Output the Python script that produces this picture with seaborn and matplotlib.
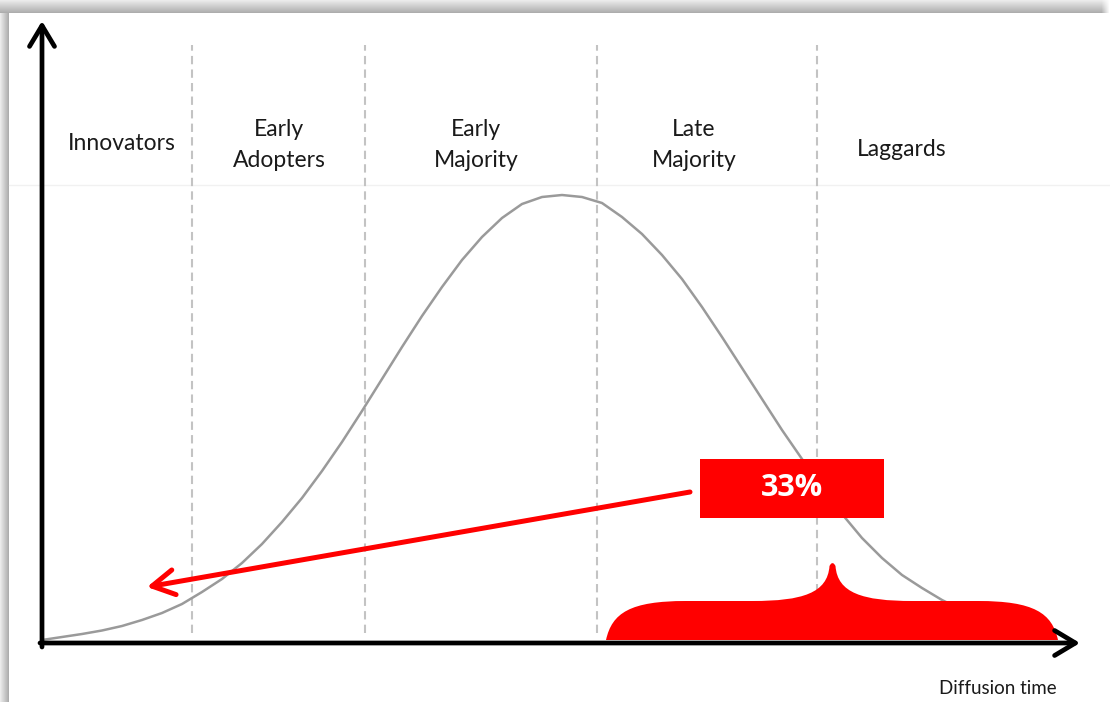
import numpy as np
import pandas as pd
import matplotlib
matplotlib.use("Agg")
import matplotlib.pyplot as plt
from matplotlib.patches import Rectangle, PathPatch
from matplotlib.path import Path
import seaborn as sns

# ---------------- data ----------------
curve_x = [0, 20, 40, 60, 80, 100, 120, 140, 160, 180, 200, 220, 240, 260, 280,
           300, 320, 340, 360, 380, 400, 420, 440, 460, 480, 500, 520, 540, 560,
           580, 600, 620, 640, 660, 680, 700, 720, 740, 760, 780, 800, 820, 840,
           860, 880, 900, 920, 940, 960]
curve_y = [3, 6, 9, 12.5, 17, 23, 30, 39, 51, 64, 80, 99, 121, 145, 172,
           201, 232, 264, 296, 327, 356, 383, 406, 425, 439, 446, 448, 446, 440,
           426, 409, 388, 364, 336, 306, 275, 244, 213, 184, 156, 129, 105, 85,
           68, 55, 43, 33, 25, 19]

boundaries = [150, 323, 555, 775]
categories = ["Innovators", "Early\nAdopters", "Early\nMajority", "Late\nMajority", "Laggards"]
label_x = [80, 237, 434, 652, 860]
label_y = [500, 498, 498, 498, 494]

share_label = "33%"
brace_span = (564, 1016)
xlabel = "Diffusion time"

# ---------------- figure ----------------
sns.set_theme(style="white")
plt.rcParams["font.family"] = ["Lato", "DejaVu Sans"]

fig = plt.figure(figsize=(11.1, 7.02), dpi=100)
fig.patch.set_facecolor("white")
ax = fig.add_axes([0, 0, 1, 1])

# shadow frame (top and left)
ntop = 13
for i in range(ntop):
    g = 0.92 - 0.24 * (i / (ntop - 1))
    ax.add_patch(Rectangle((-42, 643 - i - 1), 1110, 1, facecolor=(g, g, g),
                           edgecolor="none", zorder=0))
nleft = 9
for i in range(nleft):
    g = 0.92 - 0.24 * (i / (nleft - 1))
    ax.add_patch(Rectangle((-42 + i, -59), 1, 689, facecolor=(g, g, g),
                           edgecolor="none", zorder=0.5))
for i in range(8):
    a = (i + 1) / 8
    ax.add_patch(Rectangle((1068 - 8 + i, 630), 1, 13, facecolor="white",
                           alpha=a, edgecolor="none", zorder=0.6))

# faint horizontal separator
ax.plot([-33, 1068], [458, 458], color="#f1f1f1", lw=1, zorder=1)

# dashed dividers
ax.vlines(boundaries, 10, 598, colors="#c3c3c3", linewidth=1.5,
          linestyles=(0, (4, 2.5)), zorder=2)

# bell curve
df = pd.DataFrame({"time": curve_x, "adopters": curve_y})
sns.lineplot(data=df, x="time", y="adopters", ax=ax, color="#9a9a9a",
             linewidth=1.8, zorder=3)
ax.set_xlim(-42, 1068)
ax.set_ylim(-59, 643)
ax.axis("off")

# category labels
for lx, ly, t in zip(label_x, label_y, categories):
    ax.text(lx, ly, t, ha="center", va="center", fontsize=16.5,
            color="#1a1a1a", linespacing=1.6, zorder=4)

# axes arrows
ax.annotate("", xy=(0, 622), xytext=(0, -4),
            arrowprops=dict(arrowstyle="->,head_length=0.75,head_width=0.45",
                            lw=3.4, color="black", mutation_scale=20,
                            shrinkA=0, shrinkB=0), zorder=6)
ax.annotate("", xy=(1038, 0), xytext=(-2, 0),
            arrowprops=dict(arrowstyle="->,head_length=0.75,head_width=0.45",
                            lw=3.4, color="black", mutation_scale=20,
                            shrinkA=0, shrinkB=0), zorder=6)

# brace
L, R = brace_span
M = (L + R) / 2 + 0.5
base, top, peak = 3, 42, 81
verts = [
    (L, base),
    (L + 6, 30), (L + 24, top), (L + 80, top),
    (M - 80, top),
    (M - 30, top), (M - 5, top + 8), (M - 3, peak - 4),
    (M, peak + 2), (M + 3, peak - 4),
    (M + 5, top + 8), (M + 30, top), (M + 80, top),
    (R - 80, top),
    (R - 24, top), (R - 6, 30), (R, base),
    (L, base),
]
codes = [Path.MOVETO,
         Path.CURVE4, Path.CURVE4, Path.CURVE4,
         Path.LINETO,
         Path.CURVE4, Path.CURVE4, Path.CURVE4,
         Path.CURVE3, Path.CURVE3,
         Path.CURVE4, Path.CURVE4, Path.CURVE4,
         Path.LINETO,
         Path.CURVE4, Path.CURVE4, Path.CURVE4,
         Path.CLOSEPOLY]
ax.add_patch(PathPatch(Path(verts, codes), facecolor="#ff0000",
                       edgecolor="none", zorder=5))

# red arrow
ax.annotate("", xy=(105, 56), xytext=(648, 151),
            arrowprops=dict(arrowstyle="->,head_length=0.8,head_width=0.45",
                            lw=3.6, color="#ff0000", mutation_scale=20,
                            shrinkA=0, shrinkB=0), zorder=7)

# red box with share
ax.add_patch(Rectangle((658, 125), 184, 59, facecolor="#ff0000",
                       edgecolor="none", zorder=7))
ax.text(750, 154.5, share_label, ha="center", va="center", fontsize=22,
        fontweight="bold", color="white", family=["Open Sans", "DejaVu Sans"],
        zorder=8)

# x label
ax.text(956, -45, xlabel, ha="center", va="center", fontsize=13.5,
        color="#1a1a1a", zorder=4)

fig.savefig("out.png", dpi=100, facecolor="white")
